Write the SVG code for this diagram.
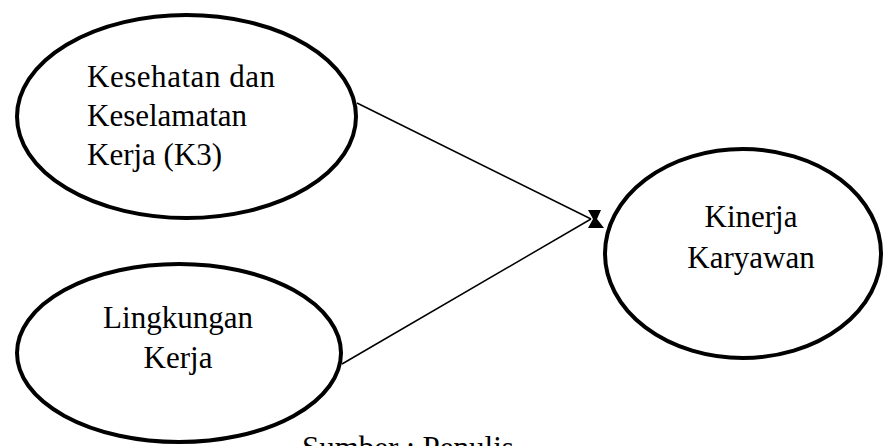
<svg xmlns="http://www.w3.org/2000/svg" width="885" height="446" viewBox="0 0 885 446">
<style>
.node ellipse{fill:#fff;stroke:#000;stroke-width:4}
text{font-family:"Liberation Serif","Times New Roman",serif;font-size:31px;fill:#000}
.c{text-anchor:middle}
.conn line{stroke:#000;stroke-width:1.5}
</style>
<rect width="885" height="446" fill="#fff"/>
<g id="connectors" class="conn">
<line x1="357" y1="103" x2="591" y2="219"/>
<line x1="342" y1="364" x2="591" y2="219"/>
<polygon points="588,210 601,210 597,219 604,228 588,228 593,219" fill="#000"/>
</g>
<g id="k3" class="node">
<ellipse cx="186.5" cy="116.5" rx="169.5" ry="101.5"/>
<text x="87" y="87" textLength="188" lengthAdjust="spacing">Kesehatan dan</text>
<text x="87" y="126">Keselamatan</text>
<text x="87" y="165">Kerja (K3)</text>
</g>
<g id="lingkungan" class="node">
<ellipse cx="179" cy="353" rx="162" ry="89"/>
<text class="c" x="178" y="328">Lingkungan</text>
<text class="c" x="178" y="368">Kerja</text>
</g>
<g id="kinerja" class="node">
<ellipse cx="743" cy="253.5" rx="138" ry="104.5"/>
<text class="c" x="751" y="227">Kinerja</text>
<text class="c" x="751" y="268">Karyawan</text>
</g>
<text x="302" y="458">Sumber : Penulis</text>
</svg>
